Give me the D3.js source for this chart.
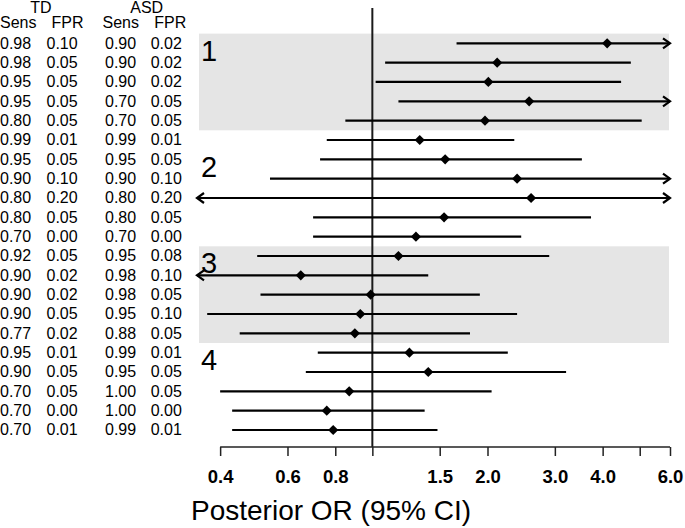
<!DOCTYPE html>
<html>
<head>
<meta charset="utf-8">
<script src="https://cdn.jsdelivr.net/npm/d3@7"></script>
<style>
  html, body { margin: 0; padding: 0; background: #fff; }
  svg { display: block; font-family: "Liberation Sans", Arial, Helvetica, sans-serif; }
</style>
</head>
<body>
<svg id="chart" width="685" height="528"></svg>
<script>
// ---------- data ----------
const tdSens  = ["0.98","0.98","0.95","0.95","0.80","0.99","0.95","0.90","0.80","0.80","0.70","0.92","0.90","0.90","0.90","0.77","0.95","0.90","0.70","0.70","0.70"];
const tdFPR   = ["0.10","0.05","0.05","0.05","0.05","0.01","0.05","0.10","0.20","0.05","0.00","0.05","0.02","0.02","0.05","0.02","0.01","0.05","0.05","0.00","0.01"];
const asdSens = ["0.90","0.90","0.90","0.70","0.70","0.99","0.95","0.90","0.80","0.80","0.70","0.95","0.98","0.98","0.95","0.88","0.99","0.95","1.00","1.00","0.99"];
const asdFPR  = ["0.02","0.02","0.02","0.05","0.05","0.01","0.05","0.10","0.20","0.05","0.00","0.08","0.10","0.05","0.10","0.05","0.01","0.05","0.05","0.00","0.01"];
const groupOf = [1,1,1,1,1,2,2,2,2,2,2,3,3,3,3,3,4,4,4,4,4];
const orMedian = [4.11,2.12,2.01,2.57,1.97,1.33,1.55,2.39,2.60,1.54,1.30,1.17,0.65,0.99,0.93,0.90,1.25,1.40,0.87,0.76,0.79];
const orLower  = [1.66,1.08,1.02,1.17,0.85,0.76,0.73,0.54,0.30,0.70,0.70,0.50,0.30,0.51,0.37,0.45,0.72,0.67,0.40,0.43,0.43];
const orUpper  = [8.50,4.74,4.47,7.20,5.06,2.35,3.53,7.50,7.80,3.73,2.45,2.90,1.40,1.91,2.39,1.80,2.26,3.21,2.05,1.37,1.48];
const groups = [1,2,3,4];
const groupLabelRow = [0,6,11,16];
const shadedGroups = [1,3];
const tickValues = [0.4,0.6,0.8,1.0,1.5,2.0,3.0,4.0,5.0,6.0];
const tickLabels = ["0.4","0.6","0.8","","1.5","2.0","3.0","4.0","","6.0"];
const axisTitle = "Posterior OR (95% CI)";

// ---------- scales ----------
const svg = d3.select("#chart");
const x = d3.scaleLog().domain([0.348, 6]).range([197, 670]);
const nRows = orMedian.length;
const y = d3.scaleLinear().domain([0, nRows - 1]).range([43.3, 430]);
const half = (y(1) - y(0)) / 2;

// ---------- shaded bands ----------
shadedGroups.forEach(g => {
  const rows = d3.range(nRows).filter(i => groupOf[i] === g);
  svg.append("rect")
    .attr("x", x.range()[0] + 2)
    .attr("y", y(d3.min(rows)) - half)
    .attr("width", x.range()[1] - x.range()[0] - 3)
    .attr("height", y(d3.max(rows)) - y(d3.min(rows)) + 2 * half)
    .attr("fill", "#e5e5e5");
});

// ---------- group labels ----------
groups.forEach((g, k) => {
  svg.append("text")
    .attr("x", 201)
    .attr("y", y(groupLabelRow[k]) + 17.5)
    .attr("font-size", 29)
    .attr("fill", "#000")
    .text(g);
});

// ---------- reference line ----------
svg.append("line")
  .attr("x1", x(1)).attr("x2", x(1))
  .attr("y1", 8).attr("y2", 447)
  .attr("stroke", "#1a1a1a").attr("stroke-width", 2);

// ---------- CI lines ----------
const [dLo, dHi] = x.domain();
const rows = d3.range(nRows).map(i => ({
  i, med: orMedian[i], lo: orLower[i], hi: orUpper[i]
}));
const ci = svg.append("g");
rows.forEach(r => {
  const x1 = x(Math.max(r.lo, dLo));
  const x2 = x(Math.min(r.hi, dHi));
  const yy = y(r.i);
  ci.append("line")
    .attr("x1", x1).attr("x2", x2).attr("y1", yy).attr("y2", yy)
    .attr("stroke", "#000").attr("stroke-width", 2.2);
  const ah = 7, aw = 5;
  if (r.hi > dHi) {
    ci.append("path")
      .attr("d", `M${x2 - ah},${yy - aw}L${x2},${yy}L${x2 - ah},${yy + aw}`)
      .attr("fill", "none").attr("stroke", "#000").attr("stroke-width", 2.2)
      .attr("stroke-linejoin", "miter");
  }
  if (r.lo < dLo) {
    ci.append("path")
      .attr("d", `M${x1 + ah},${yy - aw}L${x1},${yy}L${x1 + ah},${yy + aw}`)
      .attr("fill", "none").attr("stroke", "#000").attr("stroke-width", 2.2)
      .attr("stroke-linejoin", "miter");
  }
});

// ---------- point estimates ----------
svg.append("g").selectAll("path")
  .data(rows)
  .join("path")
  .attr("d", d3.symbol().type(d3.symbolSquare).size(52))
  .attr("transform", d => `translate(${x(d.med)},${y(d.i)}) rotate(45)`)
  .attr("fill", "#000");

// ---------- axis ----------
const axis = d3.axisBottom(x)
  .tickValues(tickValues)
  .tickFormat((d, i) => tickLabels[i])
  .tickSize(9)
  .tickSizeOuter(0)
  .tickPadding(16);
const ax = svg.append("g").attr("transform", "translate(0,447)").call(axis);
ax.select(".domain").attr("d", `M${x(tickValues[0])},0H${x(tickValues[tickValues.length - 1])}`)
  .attr("stroke", "#222").attr("stroke-width", 1.5);
ax.selectAll(".tick line").attr("stroke", "#222").attr("stroke-width", 1.5);
ax.selectAll(".tick text")
  .attr("font-family", "'Liberation Sans', Arial, sans-serif")
  .attr("font-size", 18.5).attr("font-weight", "bold").attr("fill", "#000")
  .attr("dy", null).attr("y", 36.3);

svg.append("text")
  .attr("x", 191).attr("y", 520)
  .attr("font-size", 28).attr("fill", "#000")
  .text(axisTitle);

// ---------- table ----------
const fs = 16;
const headers = [
  {t: "TD", x: 40.8, y: 13.3, anchor: "middle"},
  {t: "ASD", x: 146.7, y: 13.3, anchor: "middle"},
  {t: "Sens", x: 0, y: 28.3, anchor: "start"},
  {t: "FPR", x: 51.5, y: 28.3, anchor: "start"},
  {t: "Sens", x: 102.5, y: 28.3, anchor: "start"},
  {t: "FPR", x: 154.3, y: 28.3, anchor: "start"}
];
svg.append("g").selectAll("text").data(headers).join("text")
  .attr("x", d => d.x).attr("y", d => d.y)
  .attr("text-anchor", d => d.anchor)
  .attr("font-size", fs).attr("fill", "#000")
  .text(d => d.t);

const cols = [
  {vals: tdSens, x: 0},
  {vals: tdFPR, x: 46.5},
  {vals: asdSens, x: 105},
  {vals: asdFPR, x: 150.7}
];
const tbl = svg.append("g");
cols.forEach(c => {
  tbl.append("g").selectAll("text").data(c.vals).join("text")
    .attr("x", c.x).attr("y", (d, i) => y(i) + 5.4)
    .attr("font-size", fs).attr("fill", "#000")
    .text(d => d);
});
</script>
</body>
</html>
